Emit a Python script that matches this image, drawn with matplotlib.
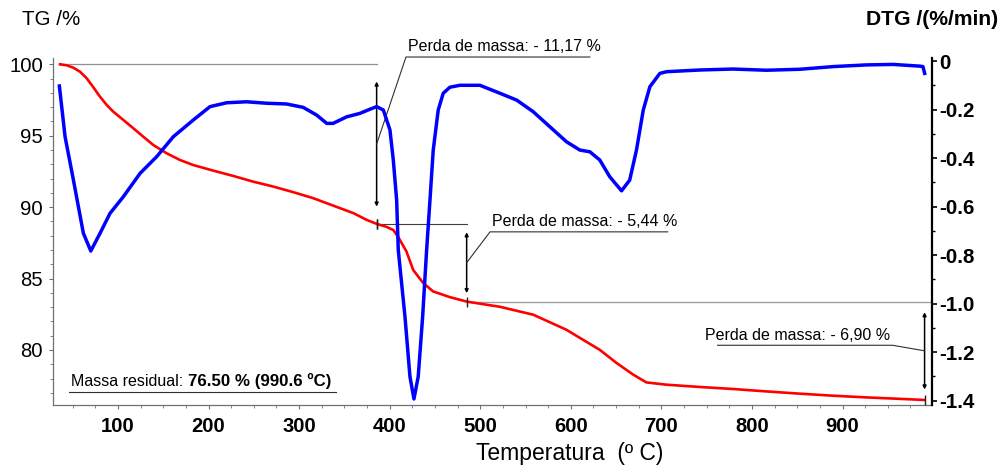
import matplotlib.pyplot as plt

plt.rcParams['font.family'] = ['Liberation Sans', 'DejaVu Sans']
plt.rcParams['axes.unicode_minus'] = False

# Curva TG (%)
tg_temp = [36, 43.4, 50.8, 58.1, 65.5, 72.8, 80.2, 87.6, 94.9, 106, 117, 128, 139,
           153.8, 168.5, 183, 205, 227, 249, 271.5, 293.5, 315.5, 337.5, 360, 374.5,
           385.6, 396.5, 404, 409.5, 418.5, 426, 437, 448, 466.5, 485, 522, 558.5,
           595, 632, 650.5, 669, 683.5, 705.5, 742.5, 779, 816, 853, 889.5, 926.5,
           963, 990.6]
tg_vals = [100.0, 99.93, 99.76, 99.48, 99.02, 98.39, 97.73, 97.15, 96.68, 96.1, 95.52,
           94.93, 94.35, 93.77, 93.3, 92.95, 92.56, 92.19, 91.79, 91.44, 91.05, 90.63,
           90.11, 89.58, 89.11, 88.83, 88.62, 88.4, 87.9, 86.9, 85.6, 84.69, 84.1,
           83.7, 83.39, 83.02, 82.47, 81.42, 80.01, 79.09, 78.27, 77.73, 77.57, 77.41,
           77.27, 77.1, 76.94, 76.8, 76.68, 76.58, 76.50]

# Curva DTG (%/min)
dtg_temp = [35.3, 41.6, 50.8, 61.8, 70, 80.2, 91.2, 106, 124.4, 142.8, 161.1, 183.2,
            201.6, 220, 242, 264, 286, 304.5, 319.5, 330.5, 337.5, 352.5, 367, 378,
            385.6, 393, 400.3, 404, 407.7, 409.5, 416.9, 422.4, 426.8, 431.5, 436.4,
            440.8, 444.5, 448.1, 453.6, 459.1, 466.5, 477.5, 499.6, 521.8, 540.2,
            558.5, 576.9, 595.3, 610, 621, 632, 643, 656, 665, 672.5, 680, 687.3,
            698.3, 705.7, 742.5, 779.2, 816, 852.8, 889.6, 926.5, 955.8, 985, 988.8,
            990.7]
dtg_vals = [-0.103, -0.312, -0.49, -0.71, -0.783, -0.71, -0.628, -0.559, -0.463,
            -0.394, -0.312, -0.243, -0.188, -0.172, -0.168, -0.174, -0.177, -0.191,
            -0.223, -0.257, -0.257, -0.23, -0.216, -0.199, -0.188, -0.202, -0.284,
            -0.408, -0.573, -0.779, -1.054, -1.301, -1.393, -1.301, -1.054, -0.779,
            -0.573, -0.367, -0.202, -0.133, -0.108, -0.1, -0.1, -0.133, -0.161,
            -0.209, -0.271, -0.333, -0.367, -0.374, -0.408, -0.477, -0.535, -0.491,
            -0.367, -0.202, -0.106, -0.051, -0.044, -0.037, -0.033, -0.038, -0.034,
            -0.023, -0.016, -0.014, -0.021, -0.023, -0.051]

# Etapas de perda de massa
step_temp = [385.6, 485.0, 990.6]
step_start = [100.0, 88.83, 83.39]
step_loss = [11.17, 5.44, 6.90]
residual = 76.50
residual_temp = 990.6

fig = plt.figure(figsize=(10.01, 4.69), dpi=100)
ax = fig.add_axes([0.0527, 0.1365, 0.8781, 0.7398])
ax2 = ax.twinx()

ax.plot(tg_temp, tg_vals, color='#ff0000', lw=1.9, zorder=3)
ax2.plot(dtg_temp, dtg_vals, color='#0000ff', lw=2.5, zorder=3)

ax.set_xlim(28, 998.5)
ax.set_ylim(76.15, 100.44)
ax2.set_ylim(-1.4177, 0.0124)

ax.set_xticks(range(100, 1000, 100))
ax.set_xticks(range(50, 1000, 25), minor=True)
ax.set_yticks([80, 85, 90, 95, 100])
ax.set_yticks(range(77, 101), minor=True)
ax2.set_yticks([0, -0.2, -0.4, -0.6, -0.8, -1.0, -1.2, -1.4])
ax2.set_yticklabels(['0', '-0.2', '-0.4', '-0.6', '-0.8', '-1.0', '-1.2', '-1.4'])
ax2.set_yticks([-0.1, -0.3, -0.5, -0.7, -0.9, -1.1, -1.3], minor=True)

for a in (ax, ax2):
    a.spines['top'].set_visible(False)
ax.spines['left'].set_color('#707070')
ax.spines['bottom'].set_color('#707070')
ax.spines['left'].set_linewidth(0.9)
ax.spines['bottom'].set_linewidth(0.9)
ax2.spines['left'].set_visible(False)
ax2.spines['bottom'].set_visible(False)
ax2.spines['right'].set_linewidth(1.6)
ax.spines['right'].set_visible(False)

ax.tick_params(axis='x', which='major', length=3, color='#707070', pad=6, labelsize=14.6)
ax.tick_params(axis='x', which='minor', length=2, color='#707070')
ax.tick_params(axis='y', which='major', length=3, color='#707070', pad=4, labelsize=14.6)
ax.tick_params(axis='y', which='minor', length=2, color='#707070')
ax2.tick_params(axis='y', which='major', length=3.5, width=1.2, pad=2, labelsize=14.8)
ax2.tick_params(axis='y', which='minor', length=2.5, width=1.0)
for lab in ax.get_xticklabels() + ax2.get_yticklabels():
    lab.set_fontweight('bold')

fig.text(570 / 1001, 1 - 453 / 469, 'Temperatura  (º C)', fontsize=16.5, ha='center', va='center')
fig.text(0.022, 0.958, 'TG /%', fontsize=14.8, va='center', ha='left')
fig.text(0.997, 0.958, 'DTG /(%/min)', fontsize=15.2, fontweight='bold', va='center', ha='right')

# Linhas de referencia das etapas
ax.plot([36, step_temp[0]], [step_start[0], step_start[0]], color='#909090', lw=0.9, zorder=2)
ax.plot([step_temp[0], step_temp[1]], [step_start[1], step_start[1]], color='#404040', lw=0.8, zorder=2)
ax.plot([step_temp[1], 998.5], [step_start[2], step_start[2]], color='#a0a0a0', lw=1.0, zorder=2)

# Setas de perda de massa
label_pos = [(418, 100.51, 621, 'left'), (510.8, 88.27, 707, 'left'), (955.4, 80.33, 762, 'right')]
for i in range(3):
    t = step_temp[i]
    top = step_start[i]
    loss = step_loss[i]
    bot = top - loss
    pad = 0.108 * loss
    ax.annotate('', xy=(t, top - pad), xytext=(t, bot + pad),
                arrowprops=dict(arrowstyle='<|-|>', mutation_scale=5, lw=1.1,
                                color='black', shrinkA=0, shrinkB=0), zorder=4)
    ax.plot([t], [bot], marker='|', ms=7, mew=1.0, color='#202020', zorder=4)
    mid = top - loss / 2
    lx, ly, ux, side = label_pos[i]
    ax.plot([t, lx, ux], [mid, ly, ly], color='#303030', lw=0.8, clip_on=False, zorder=4)
    txt = 'Perda de massa: - %s %%' % ('%.2f' % loss).replace('.', ',')
    if side == 'left':
        ax.text(lx + 2, ly + 0.18, txt, fontsize=11.5, ha='left', va='bottom')
    else:
        ax.text(ux - 14, ly + 0.18, txt, fontsize=11.5, ha='left', va='bottom')
ax.plot([step_temp[0]], [step_start[1]], marker='|', ms=7, mew=1.0, color='#202020', zorder=4)

# Massa residual
ax.plot([46, 340.8], [77.09, 77.09], color='#303030', lw=0.8, zorder=4)
t1 = ax.text(48.2, 77.25, 'Massa residual: ', fontsize=11.5, ha='left', va='bottom')
fig.canvas.draw()
bb = t1.get_window_extent().transformed(ax.transData.inverted())
ax.text(bb.x1, 77.25, '%.2f %% (%.1f ºC)' % (residual, residual_temp),
        fontsize=12.2, fontweight='bold', ha='left', va='bottom')

fig.savefig('out.png', dpi=100)
